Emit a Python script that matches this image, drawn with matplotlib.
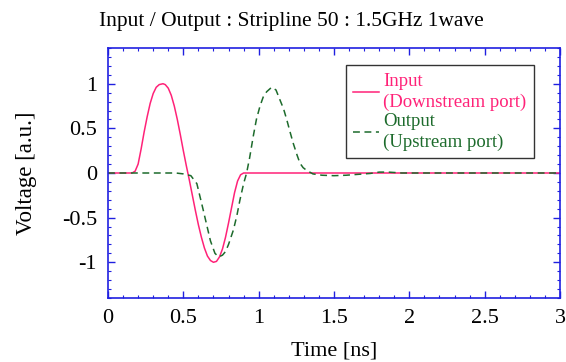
import matplotlib.pyplot as plt
from matplotlib.ticker import MultipleLocator

t_in = [0.0, 0.10, 0.16, 0.18, 0.20, 0.22, 0.24, 0.26, 0.28, 0.30, 0.32, 0.34,
        0.365, 0.38, 0.40, 0.42, 0.44, 0.46, 0.48, 0.50, 0.52, 0.54, 0.56, 0.58,
        0.60, 0.62, 0.64, 0.66, 0.68, 0.70, 0.72, 0.74, 0.76, 0.78, 0.80, 0.82,
        0.84, 0.86, 0.88, 0.90, 1.5, 2.0, 3.0]
v_in = [0.0, 0.0, 0.0, 0.02, 0.10, 0.27, 0.46, 0.63, 0.78, 0.89, 0.96, 0.99,
        1.00, 0.99, 0.95, 0.87, 0.75, 0.60, 0.43, 0.25, 0.08, -0.08, -0.25, -0.42,
        -0.58, -0.72, -0.84, -0.93, -0.98, -1.00, -0.99, -0.94, -0.85, -0.72, -0.56, -0.39,
        -0.22, -0.09, -0.02, 0.0, 0.0, 0.0, 0.0]

t_out = [0.0, 0.30, 0.45, 0.50, 0.55, 0.59, 0.63, 0.68, 0.71, 0.735, 0.76, 0.78,
         0.80, 0.832, 0.855, 0.876, 0.90, 0.92, 0.94, 0.964, 0.985, 1.009, 1.03, 1.053,
         1.086, 1.115, 1.141, 1.165, 1.186, 1.21, 1.23, 1.255, 1.274, 1.295, 1.318, 1.36,
         1.42, 1.50, 1.58, 1.66, 1.74, 1.80, 1.86, 1.95, 2.2, 3.0]
v_out = [0.0, 0.0, 0.0, -0.01, -0.03, -0.12, -0.40, -0.76, -0.90, -0.94, -0.92, -0.88,
         -0.80, -0.64, -0.48, -0.30, -0.12, 0.0, 0.17, 0.41, 0.60, 0.75, 0.85, 0.91,
         0.96, 0.93, 0.82, 0.72, 0.60, 0.45, 0.33, 0.20, 0.11, 0.06, 0.03, -0.01,
         -0.025, -0.03, -0.025, -0.015, -0.005, 0.01, 0.01, 0.0, 0.0, 0.0]

title = 'Input / Output : Stripline 50 : 1.5GHz 1wave'
labels = ['Input\n(Downstream port)', 'Output\n(Upstream port)']
x_ticks = [0, 0.5, 1, 1.5, 2, 2.5, 3]
y_ticks = [-1, -0.5, 0, 0.5, 1]

pink = '#ff2278'
green = '#1d6b2c'
blue = '#2020e0'

plt.rcParams['font.family'] = ['Liberation Serif', 'DejaVu Serif']
plt.rcParams['axes.unicode_minus'] = False

fig = plt.figure(figsize=(5.66, 3.62), dpi=100)
ax = fig.add_axes([0.1908, 0.1768, 0.7986, 0.6906])

ax.plot(t_in, v_in, color=pink, lw=1.1, label=labels[0])
ax.plot(t_out, v_out, color=green, lw=1.1, ls=(0, (4.5, 3)), label=labels[1])

ax.set_xlim(0, 3)
ax.set_ylim(-1.4, 1.4)
ax.set_xticks(x_ticks)
ax.set_xticklabels(['0', '0.5', '1', '1.5', '2', '2.5', '3'])
ax.set_yticks(y_ticks)
ax.set_yticklabels(['-1', '-0.5', '0', '0.5', '1'])
ax.xaxis.set_minor_locator(MultipleLocator(0.1))
ax.yaxis.set_minor_locator(MultipleLocator(0.1))
ax.tick_params(which='both', direction='in', top=True, right=True,
               color=blue, labelsize=16, pad=8)
ax.tick_params(which='major', length=5, width=1)
ax.tick_params(which='minor', length=2.5, width=0.8)
for sp in ax.spines.values():
    sp.set_color(blue)
    sp.set_linewidth(1.2)

# title sits left of the axes centre in the original
fig.text(0.514, 0.94, title, fontsize=15.5, ha='center', va='center')
ax.set_xlabel('Time [ns]', fontsize=16, labelpad=10)
ax.set_ylabel('Voltage [a.u.]', fontsize=16.5, labelpad=18)

leg = ax.legend(loc='upper left', bbox_to_anchor=(0.526, 0.932), fontsize=13.5,
                handlelength=1.4, handletextpad=0.2, labelcolor='linecolor',
                fancybox=False, framealpha=1, edgecolor='#333333',
                borderpad=0.4, labelspacing=0.1, borderaxespad=0)
leg.get_frame().set_linewidth(1.0)
for txt in leg.get_texts():
    txt.set_linespacing(1.3)

plt.savefig('out.png', dpi=100, facecolor='white')
